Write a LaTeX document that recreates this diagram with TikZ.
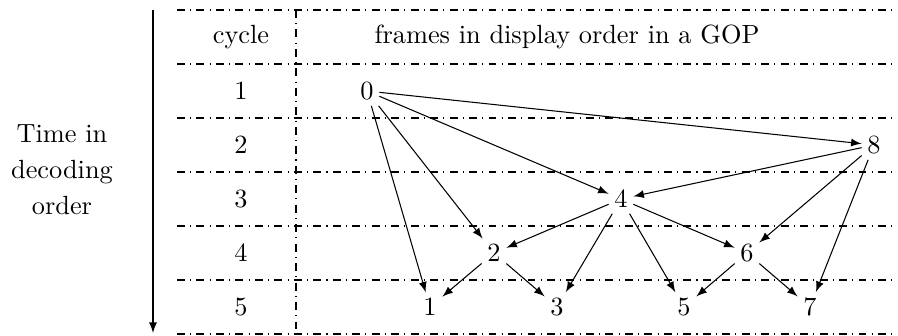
\documentclass[tikz,border=0pt]{standalone}
\begin{document}
\begin{tikzpicture}[x=0.38pt,y=-0.38pt,
  grid/.style={dash dot, line width=0.4pt},
  frm/.style={inner sep=2pt},
  dep/.style={-latex, line width=0.4pt}]
\useasboundingbox (0,0) rectangle (898,335);
% horizontal separators
\foreach \yy in {10,64,118,172,226,280,334}
  \draw[grid] (177,\yy) -- (898,\yy);
% vertical separator
\draw[grid] (296,10) -- (296,334);
% time arrow
\coordinate (ttop) at (153,10);
\coordinate (tbot) at (153,333);
\draw[-latex] (ttop) -- (tbot);
\node[align=center] (time) at (62,170) {Time in\\[1.6pt]decoding\\[1.6pt]order};
% headers
\node (hcyc) at (241,37) {cycle};
\node (hfr) at (567,37) {frames in display order in a GOP};
\node (c1) at (241,91) {1};
\node (c2) at (241,145) {2};
\node (c3) at (241,199) {3};
\node (c4) at (241,253) {4};
\node (c5) at (241,307) {5};
% frames
\node[frm] (f0) at (367,91) {0};
\node[frm] (f8) at (874,145) {8};
\node[frm] (f4) at (621,199) {4};
\node[frm] (f2) at (494,253) {2};
\node[frm] (f6) at (747,253) {6};
\node[frm] (f1) at (430,307) {1};
\node[frm] (f3) at (557,307) {3};
\node[frm] (f5) at (684,307) {5};
\node[frm] (f7) at (810,307) {7};
% dependencies
\draw[dep] (f0) -- (f8);
\draw[dep] (f0) -- (f4);
\draw[dep] (f0) -- (f2);
\draw[dep] (f0) -- (f1);
\draw[dep] (f8) -- (f4);
\draw[dep] (f8) -- (f6);
\draw[dep] (f8) -- (f7);
\draw[dep] (f4) -- (f2);
\draw[dep] (f4) -- (f3);
\draw[dep] (f4) -- (f5);
\draw[dep] (f4) -- (f6);
\draw[dep] (f2) -- (f1);
\draw[dep] (f2) -- (f3);
\draw[dep] (f6) -- (f5);
\draw[dep] (f6) -- (f7);
\end{tikzpicture}
\end{document}
